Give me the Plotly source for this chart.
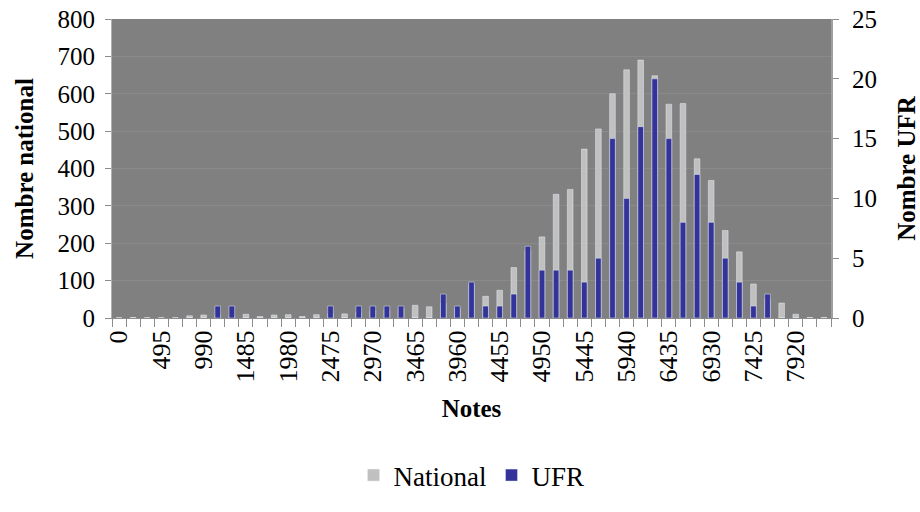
import plotly.graph_objects as go

# score classes (x axis categories)
notes = [0, 165, 330, 495, 660, 825, 990, 1155, 1320, 1485,
         1650, 1815, 1980, 2145, 2310, 2475, 2640, 2805, 2970, 3135,
         3300, 3465, 3630, 3795, 3960, 4125, 4290, 4455, 4620, 4785,
         4950, 5115, 5280, 5445, 5610, 5775, 5940, 6105, 6270, 6435,
         6600, 6765, 6930, 7095, 7260, 7425, 7590, 7755, 7920, 8085,
         8250]

# counts
national = [0, 1, 0, 0, 0, 6, 8, 8, 6, 10,
            4, 8, 9, 4, 9, 12, 11, 15, 20, 22,
            25, 34, 30, 40, 25, 90, 58, 74, 135, 180,
            217, 331, 344, 452, 506, 600, 664, 690, 648, 572,
            574, 426, 368, 234, 177, 91, 50, 40, 10, 1,
            1]

ufr = [0, 0, 0, 0, 0, 0, 0, 1, 1, 0,
       0, 0, 0, 0, 0, 1, 0, 1, 1, 1,
       1, 0, 0, 2, 1, 3, 1, 1, 2, 6,
       4, 4, 4, 3, 5, 15, 10, 16, 20, 15,
       8, 12, 8, 5, 3, 1, 2, 0, 0, 0,
       0]

tick_notes = notes[::3]

font_family = "Liberation Serif"

fig = go.Figure()
fig.add_trace(go.Bar(x=notes, y=national, name="National", marker_color="#c0c0c0",
                     width=66, yaxis="y"))
fig.add_trace(go.Bar(x=notes, y=ufr, name="UFR", marker_color="#333399",
                     width=66, yaxis="y2"))

fig.update_layout(
    width=920, height=512,
    margin=dict(l=112, r=89, t=19, b=180),
    paper_bgcolor="white",
    plot_bgcolor="#808080",
    barmode="overlay",
    font=dict(family=font_family, size=25, color="black"),
    showlegend=True,
    legend=dict(orientation="h", x=0.5, xanchor="center", y=-0.527, yanchor="middle",
                font=dict(size=27), itemwidth=30, traceorder="normal"),
    xaxis=dict(
        range=[-82.5, 8332.5], automargin=False,
        tickmode="array", tickvals=tick_notes, ticktext=[str(v) for v in tick_notes],
        tickangle=-90, ticks="", showgrid=False, zeroline=False,
        tickfont=dict(size=26), ticklabelstandoff=1,
        showline=True, linecolor="#8c8c8c", linewidth=1,
        minor=dict(tick0=-82.5, dtick=165, ticks="outside", ticklen=8,
                   tickcolor="#8c8c8c", showgrid=False),
        title=dict(text="<b>Notes</b>", standoff=18, font=dict(size=25)),
    ),
    yaxis=dict(
        range=[0, 800], dtick=100, ticks="outside", ticklen=6, tickcolor="#8c8c8c",
        automargin=False, ticklabelstandoff=5, ticklabeloverflow="allow",
        showgrid=True, gridcolor="#8a8a8a", zeroline=False,
        showline=True, linecolor="#b0b0b0",
        title=dict(text="<b>Nombre national</b>", standoff=16, font=dict(size=25)),
    ),
    yaxis2=dict(
        range=[0, 25], dtick=5, overlaying="y", side="right", automargin=False,
        ticks="outside", ticklen=6, tickcolor="#8c8c8c", ticklabelstandoff=8,
        ticklabeloverflow="allow",
        showgrid=False, zeroline=False, showline=True, linecolor="#a0a0a0", linewidth=2,
        title=dict(text="<b>Nombre UFR</b>", standoff=22, font=dict(size=25)),
    ),
)

# drop the default page margin so the figure sits at the window corner
fig.write_html("out.html", config={"displayModeBar": False},
               post_script="document.body.style.margin='0';")
